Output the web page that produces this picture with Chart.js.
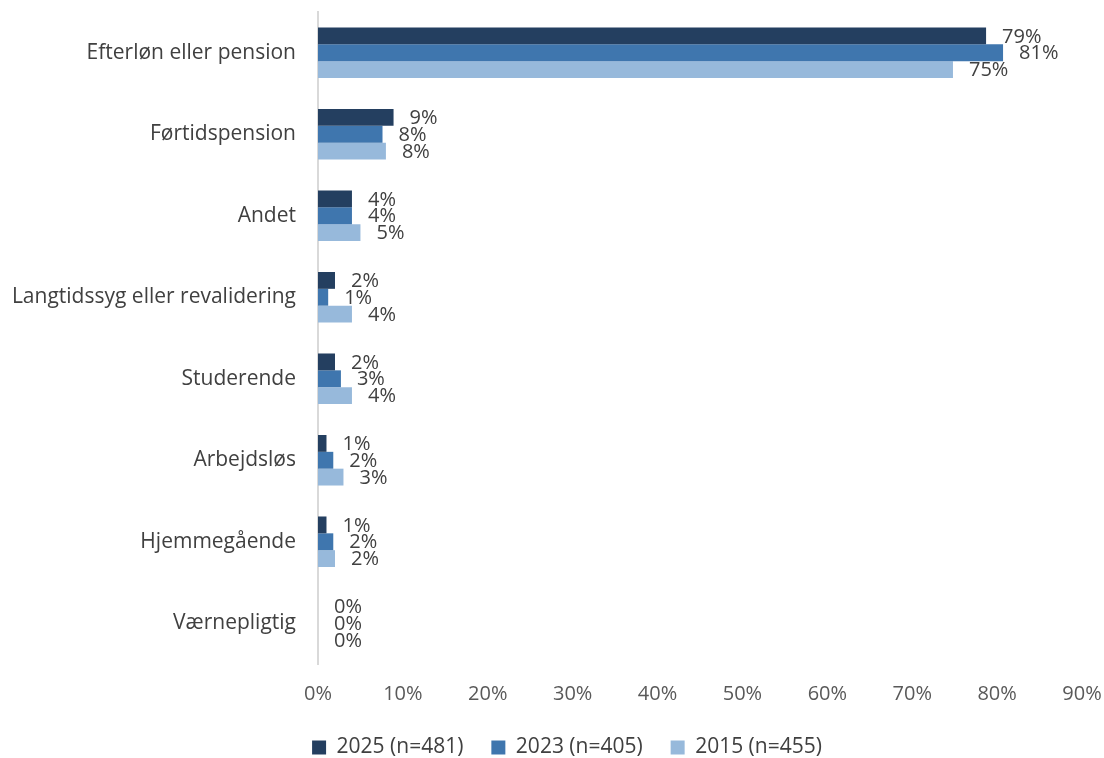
<!DOCTYPE html>
<html>
<head>
<meta charset="utf-8">
<script src="https://cdn.jsdelivr.net/npm/chart.js@4.4.1/dist/chart.umd.min.js"></script>
<style>
  html, body { margin: 0; padding: 0; background: #fff; }
  #wrap { width: 1104px; height: 758px; }
</style>
</head>
<body>
<div id="wrap"><canvas id="chart" width="1104" height="758"></canvas></div>
<script>
const categories = ['Efterløn eller pension', 'Førtidspension', 'Andet', 'Langtidssyg eller revalidering', 'Studerende', 'Arbejdsløs', 'Hjemmegående', 'Værnepligtig'];
const seriesNames = ['2025 (n=481)', '2023 (n=405)', '2015 (n=455)'];
const values2025 = [78.7, 8.9, 4.0, 2.0, 2.0, 1.0, 1.0, 0];
const values2023 = [80.7, 7.6, 4.0, 1.2, 2.7, 1.8, 1.8, 0];
const values2015 = [74.8, 8.0, 5.0, 4.0, 4.0, 3.0, 2.0, 0];
const xTicks = [0, 10, 20, 30, 40, 50, 60, 70, 80, 90];

const colors = ['#243F60', '#3F76AE', '#97B9DB'];
const fontFamily = "'Open Sans', 'Liberation Sans', sans-serif";

// draws the percent next to each bar
const barLabels = {
    id: 'barLabels',
    afterDatasetsDraw(chart) {
        const ctx = chart.ctx;
        ctx.save();
        ctx.font = '20px ' + fontFamily;
        ctx.fillStyle = '#404040';
        ctx.textAlign = 'left';
        ctx.textBaseline = 'middle';
        chart.data.datasets.forEach((ds, i) => {
            chart.getDatasetMeta(i).data.forEach((bar, j) => {
                ctx.fillText(Math.round(ds.data[j]) + '%', bar.x + 16, bar.y + 1);
            });
        });
        ctx.restore();
    }
};

// fixed legend height, and nudge it right a little like the original
const legendTweak = {
    id: 'legendTweak',
    afterInit(chart) {
        const lg = chart.legend;
        if (!lg) return;
        const fit = lg.fit.bind(lg);
        lg.fit = function () {
            fit();
            this.height = 49;
        };
        const draw = lg.draw.bind(lg);
        lg.draw = function () {
            chart.ctx.save();
            chart.ctx.translate(26, 0);
            draw();
            chart.ctx.restore();
        };
    }
};

new Chart(document.getElementById('chart').getContext('2d'), {
    type: 'bar',
    data: {
        labels: categories,
        datasets: [
            { label: seriesNames[0], data: values2025, backgroundColor: colors[0] },
            { label: seriesNames[1], data: values2023, backgroundColor: colors[1] },
            { label: seriesNames[2], data: values2015, backgroundColor: colors[2] }
        ]
    },
    options: {
        indexAxis: 'y',
        responsive: false,
        animation: false,
        layout: { padding: { left: 0, right: 22, top: 12, bottom: 0 } },
        datasets: { bar: { categoryPercentage: 0.62, barPercentage: 1.0 } },
        scales: {
            x: {
                min: 0,
                max: 90,
                afterBuildTicks(scale) {
                    scale.ticks = xTicks.map(v => ({ value: v }));
                },
                afterFit(scale) {
                    scale.height = 45;
                    scale.paddingLeft = 0;
                    scale.paddingRight = 0;
                },
                grid: { display: false },
                border: { display: false },
                ticks: {
                    padding: 10,
                    color: '#595959',
                    font: { size: 20, family: fontFamily },
                    callback: v => v + '%'
                }
            },
            y: {
                afterFit(scale) {
                    scale.width = 318;
                    scale.paddingTop = 0;
                    scale.paddingBottom = 0;
                },
                grid: { display: false },
                border: { display: true, color: '#D9D9D9', width: 2 },
                ticks: {
                    padding: 14,
                    color: '#404040',
                    font: { size: 21, family: fontFamily }
                }
            }
        },
        plugins: {
            legend: {
                position: 'bottom',
                labels: {
                    boxWidth: 14,
                    boxHeight: 14,
                    padding: 28,
                    color: '#404040',
                    font: { size: 21, family: fontFamily }
                }
            },
            tooltip: { enabled: false }
        }
    },
    plugins: [barLabels, legendTweak]
});
</script>
</body>
</html>
